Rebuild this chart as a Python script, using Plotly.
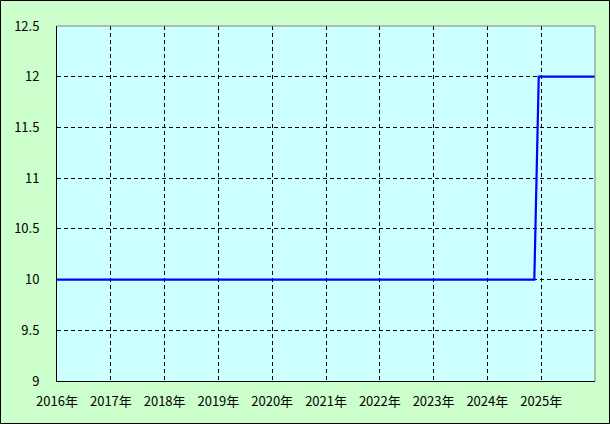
import plotly.graph_objects as go

dates = ["2016-01-01", "2024-11-15", "2024-12-15", "2025-12-31"]
values = [10, 10, 12, 12]

x_tick_vals = ["2016-01-01", "2017-01-01", "2018-01-01", "2019-01-01", "2020-01-01",
               "2021-01-01", "2022-01-01", "2023-01-01", "2024-01-01", "2025-01-01"]
x_tick_text = ["2016年", "2017年", "2018年", "2019年", "2020年",
               "2021年", "2022年", "2023年", "2024年", "2025年"]
y_tick_vals = [9, 9.5, 10, 10.5, 11, 11.5, 12, 12.5]
y_tick_text = ["9", "9.5", "10", "10.5", "11", "11.5", "12", "12.5"]

W, H = 610, 424
L, R, T, B = 57, 15, 26, 43
pw, ph = W - L - R, H - T - B

fig = go.Figure()
fig.add_trace(go.Scatter(x=dates, y=values, mode="lines",
                         line=dict(color="#0000FF", width=2.2), showlegend=False,
                         hoverinfo="skip"))

fig.update_layout(
    width=W, height=H,
    margin=dict(l=L, r=R, t=T, b=B, pad=0),
    paper_bgcolor="#CCFFCC",
    plot_bgcolor="#CCFFFF",
    font=dict(family="DejaVu Sans, Noto Sans CJK JP", size=13, color="#000000"),
    xaxis=dict(
        type="date", range=["2016-01-01", "2026-01-01"],
        tickvals=x_tick_vals, ticktext=x_tick_text,
        showgrid=True, gridcolor="#000000", gridwidth=1, griddash="4px,3px",
        showline=True, linecolor="#000000", linewidth=1,
        ticks="", ticklabelstandoff=8, zeroline=False,
        tickfont=dict(family="Noto Sans CJK JP", size=13, color="#000000"),
    ),
    yaxis=dict(
        range=[9, 12.5],
        tickvals=y_tick_vals, ticktext=y_tick_text,
        showgrid=True, gridcolor="#000000", gridwidth=1, griddash="4px,3px",
        showline=True, linecolor="#000000", linewidth=1,
        ticks="", ticklabelstandoff=14, zeroline=False,
        tickfont=dict(family="Noto Sans CJK JP", size=13, color="#000000"),
    ),
    shapes=[
        dict(type="line", xref="paper", yref="paper", x0=0, x1=1, y0=1, y1=1,
             line=dict(color="#808080", width=1)),
        dict(type="line", xref="paper", yref="paper", x0=1, x1=1, y0=0, y1=1,
             line=dict(color="#808080", width=1)),
        dict(type="rect", xref="paper", yref="paper",
             x0=-(L - 0.5) / pw, x1=1 + (R - 0.5) / pw,
             y0=-(B - 0.5) / ph, y1=1 + (T - 0.5) / ph,
             line=dict(color="#000000", width=1), layer="above"),
    ],
)

fig.write_html("out.html", config={"displayModeBar": False},
               post_script="document.body.style.margin='0';document.body.style.padding='0';")
